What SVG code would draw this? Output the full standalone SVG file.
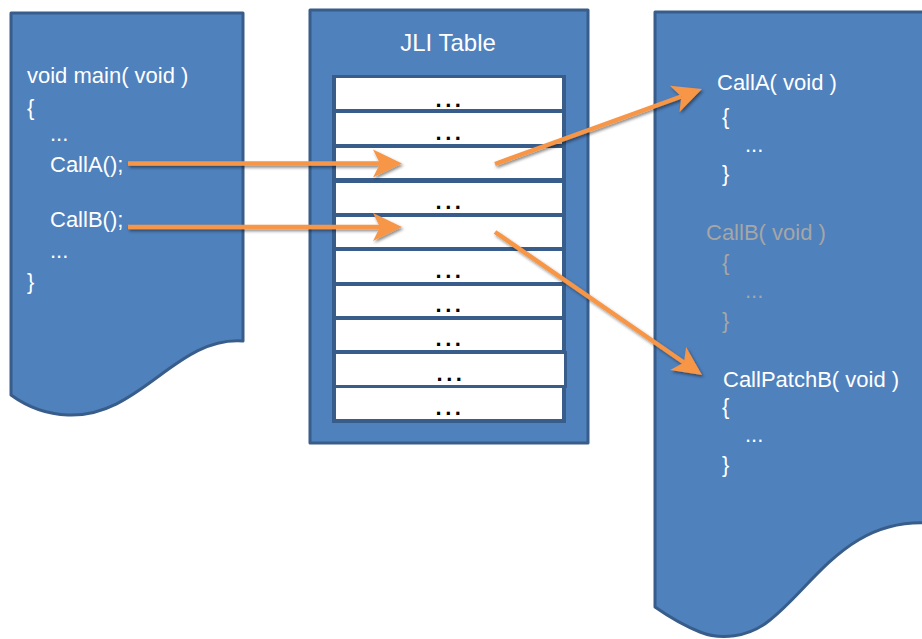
<svg xmlns="http://www.w3.org/2000/svg" width="922" height="639" viewBox="0 0 922 639">
<style>
.doc{fill:#4F81BD;stroke:#385D8A;stroke-width:3;stroke-linejoin:round}
.t{font-family:"Liberation Sans",Arial,sans-serif;font-size:22px;fill:#FFFFFF}
.g{fill:#A6A6A6}
.row{fill:#FFFFFF}
.dots{font-family:"Liberation Sans",Arial,sans-serif;font-size:22px;font-weight:bold;fill:#000000;letter-spacing:3.6px;text-anchor:middle}
.arr{fill:none;stroke:#F79646;stroke-width:4.5;marker-end:url(#ah)}
</style>
<defs>
<marker id="ah" markerUnits="userSpaceOnUse" orient="auto" markerWidth="60" markerHeight="60" refX="0" refY="0" viewBox="-30 -30 60 60" overflow="visible">
<path d="M-7,-14 L22,0 L-7,14 L0,0 Z" fill="#F79646"/>
</marker>
<filter id="sh" x="-10%" y="-20%" width="120%" height="140%">
<feDropShadow dx="1.5" dy="2" stdDeviation="1.5" flood-color="#000" flood-opacity="0.45"/>
</filter>
</defs>
<rect width="922" height="639" fill="#FFFFFF"/>

<g id="main-doc">
<path class="doc" d="M11,13 H243 V341 C176,336 140,418 68,415 C40,414 22,403 11,395 Z"/>
<text class="t" x="27" y="83">void main( void )</text>
<text class="t" x="27" y="115">{</text>
<text class="t" x="50" y="141">...</text>
<text class="t" x="50" y="172">CallA();</text>
<text class="t" x="50" y="227">CallB();</text>
<text class="t" x="50" y="258">...</text>
<text class="t" x="27" y="289">}</text>
</g>

<g id="jli-table">
<rect class="doc" x="310" y="10" width="278" height="433"/>
<text class="t" x="448" y="51" text-anchor="middle" style="font-size:24px">JLI Table</text>
<rect x="332" y="75" width="234" height="348" fill="#385D8A"/>
<rect class="row" x="336" y="78" width="226" height="31"/>
<rect class="row" x="336" y="113" width="226" height="31"/>
<rect class="row" x="336" y="148" width="226" height="30"/>
<rect class="row" x="336" y="183" width="226" height="30"/>
<rect class="row" x="336" y="217" width="226" height="30"/>
<rect class="row" x="336" y="251" width="226" height="31"/>
<rect class="row" x="336" y="286" width="226" height="30"/>
<rect class="row" x="336" y="320" width="226" height="30"/>
<rect x="334.5" y="352.5" width="231" height="34" fill="#FFFFFF" stroke="#385D8A" stroke-width="3"/>
<rect class="row" x="336" y="388" width="226" height="31"/>
<text class="dots" x="450" y="107">...</text>
<text class="dots" x="450" y="140">...</text>
<text class="dots" x="450" y="209">...</text>
<text class="dots" x="450" y="278">...</text>
<text class="dots" x="450" y="312">...</text>
<text class="dots" x="450" y="346">...</text>
<text class="dots" x="451" y="381">...</text>
<text class="dots" x="450" y="415">...</text>
</g>

<g id="functions-doc">
<path class="doc" d="M655,12 H940 V524 C850,512 815,585 770,620 C748,638 720,640 700,632 C680,624 665,614 655,607 Z"/>
<text class="t" x="717" y="90">CallA( void )</text>
<text class="t" x="722" y="124">{</text>
<text class="t" x="745" y="152">...</text>
<text class="t" x="722" y="181">}</text>
<text class="t g" x="706" y="240">CallB( void )</text>
<text class="t g" x="722" y="270">{</text>
<text class="t g" x="745" y="298">...</text>
<text class="t g" x="722" y="328">}</text>
<text class="t" x="723" y="387">CallPatchB( void )</text>
<text class="t" x="722" y="414">{</text>
<text class="t" x="745" y="442">...</text>
<text class="t" x="722" y="472">}</text>
</g>

<g id="connectors" filter="url(#sh)">
<line class="arr" x1="128" y1="163.5" x2="380" y2="163.5"/>
<line class="arr" x1="128" y1="227" x2="380" y2="227"/>
<line class="arr" x1="495" y1="164" x2="681.3" y2="96.5"/>
<line class="arr" x1="495" y1="232" x2="683.9" y2="362.5"/>
</g>
</svg>
